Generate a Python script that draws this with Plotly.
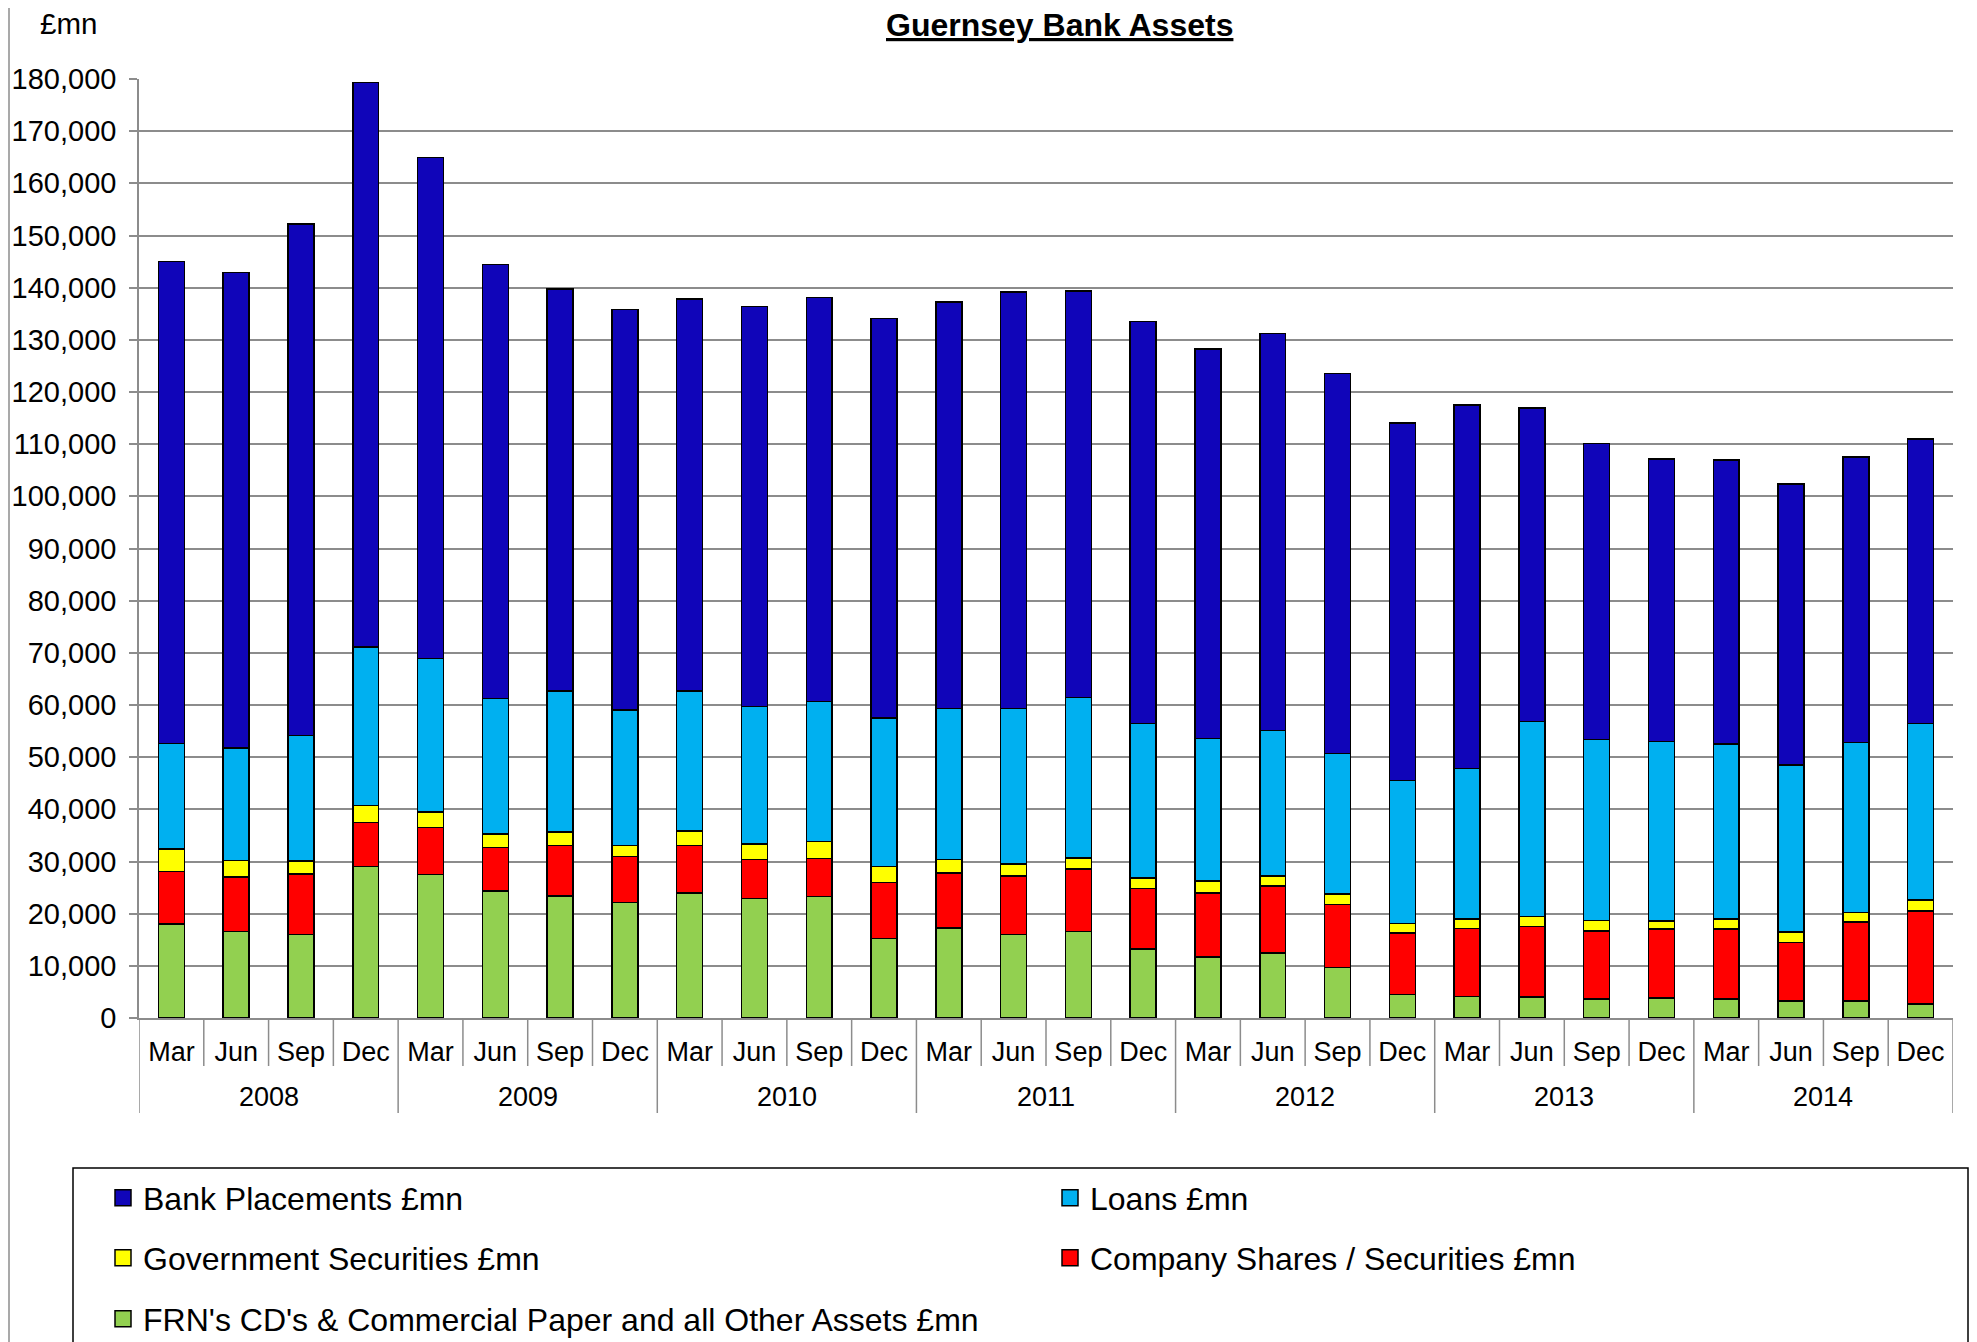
import plotly.graph_objects as go

years = ["2008", "2009", "2010", "2011", "2012", "2013", "2014"]
months = ["Mar", "Jun", "Sep", "Dec"]

# values in £mn, stacked bottom to top
frn = [18000, 16600, 16000, 29000, 27500, 24300, 23400, 22100, 24000, 22900, 23300, 15200,
       17300, 16000, 16600, 13200, 11700, 12500, 9700, 4500, 4100, 4000, 3600, 3800,
       3600, 3300, 3300, 2700]
company = [10100, 10400, 11600, 8500, 9000, 8400, 9700, 8900, 9100, 7500, 7300, 10800,
           10500, 11200, 12000, 11600, 12300, 12800, 12100, 11800, 13100, 13500, 13100, 13300,
           13500, 11200, 15100, 17800]
govt = [4300, 3200, 2500, 3200, 3000, 2600, 2600, 2100, 2700, 3000, 3200, 3000,
        2600, 2300, 2100, 2000, 2300, 1900, 2000, 1800, 1800, 2000, 2000, 1500,
        1900, 2000, 1800, 2100]
loans = [20200, 21600, 24100, 30400, 29400, 25900, 27000, 25900, 26900, 26300, 26900, 28500,
         28900, 29800, 30700, 29700, 27300, 27900, 26900, 27400, 28800, 37300, 34700, 34400,
         33500, 32000, 32600, 33900]
bank = [92400, 91100, 98000, 108200, 96100, 83200, 77000, 76800, 75100, 76700, 77400, 76600,
        78000, 79900, 78000, 77000, 74600, 76100, 72800, 68600, 69700, 60100, 56700, 54200,
        54500, 53900, 54700, 54500]

series = [
    ("FRN's CD's & Commercial Paper and all Other Assets £mn", frn, "#92D050", "legend3"),
    ("Company Shares / Securities £mn", company, "#FF0000", "legend2"),
    ("Government Securities £mn", govt, "#FFFF00", "legend2"),
    ("Loans £mn", loans, "#00B0F0", "legend"),
    ("Bank Placements £mn", bank, "#1005B9", "legend"),
]

x_months = [m for y in years for m in months]
x_pos = list(range(len(x_months)))
n = len(x_months)
per_year = len(months)

FONT = "Arial, Liberation Sans, sans-serif"
GRID = "#8c8c8c"

fig = go.Figure()
for name, vals, color, leg in series:
    fig.add_trace(go.Bar(
        x=x_pos, y=vals, name=name, showlegend=False,
        marker=dict(color=color, line=dict(color="black", width=1.5)),
    ))
# legend entries (square swatches)
for name, vals, color, leg in series:
    fig.add_trace(go.Scatter(
        x=[None], y=[None], mode="markers", name=name, legend=leg, hoverinfo="skip",
        marker=dict(symbol="square", size=16, color=color, line=dict(color="black", width=1.5)),
    ))

# page is offset by the 8px body margin
OFF = 8
W, H = 1977 - OFF, 1342 - OFF
L, T = 139 - OFF, 79 - OFF
R = W - (1953 - OFF)
B = H - (1018 - OFF)
pw, ph = W - L - R, H - T - B


def px(p):
    return (p - OFF - L) / pw


def py(p):
    return (H - B - (p - OFF)) / ph


shapes = []
for k in range(n + 1):
    is_year = (k % per_year == 0)
    shapes.append(dict(type="line", xref="x", yref="paper", x0=k - 0.5, x1=k - 0.5,
                       y0=0, y1=py(1113) if is_year else py(1066),
                       line=dict(color=GRID, width=1.5)))
# legend frame
shapes.append(dict(type="rect", xref="paper", yref="paper", x0=px(73), x1=px(1968),
                   y0=py(1400), y1=py(1168), line=dict(color="black", width=1.5)))
# outer chart border on the left
shapes.append(dict(type="line", xref="paper", yref="paper", x0=px(OFF + 1), x1=px(OFF + 1),
                   y0=py(-10), y1=py(1400), line=dict(color=GRID, width=1.5)))

annotations = [
    dict(text="<b><u>Guernsey Bank Assets</u></b>", xref="paper", yref="paper",
         x=px(1059), y=py(25), xanchor="center", yanchor="middle", showarrow=False,
         font=dict(size=32, family=FONT, color="black")),
    dict(text="£mn", xref="paper", yref="paper", x=px(38), y=py(23),
         xanchor="left", yanchor="middle", showarrow=False,
         font=dict(size=29.5, family=FONT, color="black")),
]
for i, yr in enumerate(years):
    annotations.append(dict(text=yr, xref="x", yref="paper",
                            x=i * per_year + (per_year - 1) / 2, y=py(1097),
                            xanchor="center", yanchor="middle", showarrow=False,
                            font=dict(size=27, family=FONT, color="black")))

leg_common = dict(orientation="h", traceorder="reversed", font=dict(size=32, family=FONT, color="black"),
                  bgcolor="rgba(0,0,0,0)", entrywidth=902, entrywidthmode="pixels",
                  xanchor="left", yanchor="middle", x=px(103), itemclick=False)

fig.update_layout(
    width=W, height=H,
    margin=dict(l=L, r=R, t=T, b=B, autoexpand=False),
    paper_bgcolor="white", plot_bgcolor="white",
    barmode="stack", bargap=0.6,
    font=dict(family=FONT, color="black"),
    shapes=shapes,
    annotations=annotations,
    legend=dict(y=py(1198), **leg_common),
    legend2=dict(y=py(1258), **leg_common),
    legend3=dict(y=py(1319), **leg_common),
    xaxis=dict(
        tickmode="array", tickvals=x_pos, ticktext=x_months,
        ticks="", ticklabelstandoff=9,
        tickfont=dict(size=27, family=FONT, color="black"),
        showline=True, linecolor=GRID, linewidth=1.5,
        range=[-0.5, n - 0.5], showgrid=False, zeroline=False,
    ),
    yaxis=dict(
        range=[0, 180000], dtick=10000, tickformat=",",
        ticks="outside", ticklen=8, tickcolor=GRID, tickwidth=1.5, ticklabelstandoff=7,
        showgrid=True, gridcolor=GRID, gridwidth=1.5,
        showline=True, linecolor=GRID, linewidth=1.5, zeroline=False,
        tickfont=dict(size=29, family=FONT, color="black"),
    ),
)

fig.write_html("out.html")
